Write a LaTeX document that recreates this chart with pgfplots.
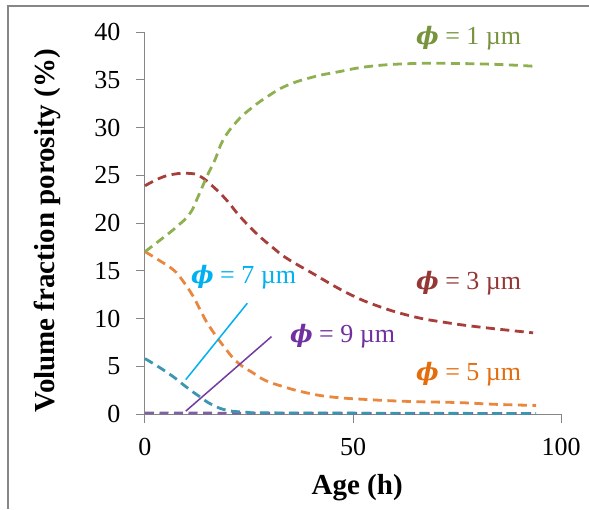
\documentclass[border=0pt]{standalone}
\usepackage{pgfplots}
\pgfplotsset{compat=1.18}
\usepackage{fontspec}
\setmainfont{Liberation Serif}
\newfontfamily\phifont{DejaVu Serif}
\definecolor{gline}{HTML}{8EB050}
\definecolor{gtext}{HTML}{77933C}
\definecolor{rline}{HTML}{A83E3B}
\definecolor{rtext}{HTML}{953735}
\definecolor{oline}{HTML}{E9873E}
\definecolor{otext}{HTML}{E46C0A}
\definecolor{tline}{HTML}{3C96B0}
\definecolor{pline}{HTML}{7F63A0}
\definecolor{ptext}{HTML}{7030A0}
\definecolor{ctext}{HTML}{00B0F0}
\definecolor{axgray}{HTML}{868686}
\newcommand{\phisym}{{\phifont\fontsize{24}{26}\selectfont\bfseries\itshape ϕ}}
\begin{document}
\begin{tikzpicture}[x=1pt,y=1pt]
\useasboundingbox (0,0) rectangle (589,509);
\draw[axgray, line width=2.5pt] (8,0) -- (8,503) -- (589,503);
\begin{axis}[
  at={(145pt,95pt)}, anchor=south west,
  scale only axis, width=416pt, height=382pt,
  xmin=0, xmax=100, ymin=0, ymax=40,
  axis lines*=left,
  axis line style={axgray, line width=1pt},
  xtick={0,50,100}, ytick={0,5,...,40},
  tick style={axgray, line width=1pt},
  tick align=outside, major tick length=9pt,
  /pgf/number format/assume math mode=true,
  ticklabel style={font=\fontsize{26}{28}\selectfont, text=black},
  yticklabel style={xshift=-12pt},
  xticklabel style={yshift=-12pt},
  label style={font=\fontsize{29}{31}\selectfont\bfseries},
  xlabel={Age (h)}, ylabel={Volume fraction porosity (\%)},
  xlabel style={at={(axis description cs:0.51,-0.194)}, anchor=center},
  ylabel style={at={(axis description cs:-0.235,0.48)}, anchor=center, rotate=0},
  clip=false,
  every axis plot/.append style={line width=2.8pt, dash pattern=on 9pt off 5.5pt, smooth, tension=0.75},
]
\addplot[pline] coordinates {(0,0.1) (30,0.08) (60,0.06) (94,0.05)};
\addplot[tline] coordinates {(0,5.8) (3.4,4.9) (6.8,3.9) (10,2.8) (13.2,1.8) (16,1.0) (19.6,0.4) (24,0.2) (30,0.12) (60,0.08) (94,0.05)};
\addplot[oline] coordinates {(0,17) (3,16.2) (6.8,15.1) (9,14) (11.6,12.3) (13.5,10.7) (15.6,9.1) (19.6,6.7) (22.5,5.3) (26,4.3) (29,3.5) (33,2.9) (38,2.3) (44.5,1.8) (54,1.5) (64.5,1.3) (75,1.2) (85,1.0) (94,0.9)};
\addplot[rline] coordinates {(0,23.9) (3.6,24.7) (6.8,25.1) (10.4,25.2) (13.2,24.9) (16.4,23.8) (19.6,22.4) (22.8,20.7) (26.8,18.9) (30.8,17.4) (34.1,16.3) (40,14.8) (48.5,12.7) (56,11.3) (64.5,10.2) (72,9.6) (80.5,9.1) (93.3,8.5)};
\addplot[gline] coordinates {(0,17.0) (3.6,18.2) (7.6,19.6) (10.8,21.0) (12.8,22.8) (14.8,24.8) (16.8,26.6) (18.8,28.7) (22,30.6) (25.2,31.9) (29.3,33.2) (34.1,34.4) (40.5,35.3) (46.1,35.8) (54,36.4) (64.5,36.7) (75,36.7) (85,36.6) (94,36.4)};
\addplot[ctext, line width=1.5pt, solid, sharp plot] coordinates {(9.8,3.6) (24.6,11.6)};
\addplot[ptext!80!pline, line width=1.5pt, solid, sharp plot] coordinates {(9.8,0.3) (30.4,8.1)};
\tikzset{lab/.style={font=\fontsize{26}{28}\selectfont, anchor=center}}
\node[lab, text=gtext] at (axis cs:77.8,39.4) {\phisym\ = 1 µm};
\node[lab, text=rtext] at (axis cs:77.8,13.7) {\phisym\ = 3 µm};
\node[lab, text=otext] at (axis cs:77.8,4.2) {\phisym\ = 5 µm};
\node[lab, text=ctext] at (axis cs:23.7,14.3) {\phisym\ = 7 µm};
\node[lab, text=ptext] at (axis cs:47.5,8.2) {\phisym\ = 9 µm};
\end{axis}
\end{tikzpicture}
\end{document}
